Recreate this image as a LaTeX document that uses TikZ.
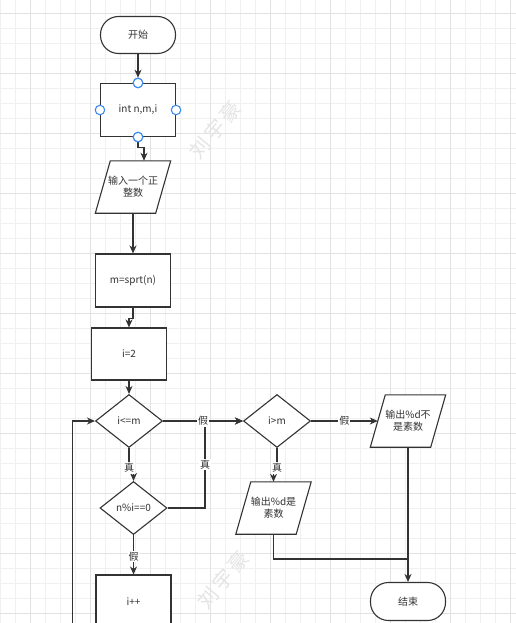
\documentclass[tikz,border=0pt]{standalone}
\usepackage{fontspec}
\setmainfont{Noto Sans CJK SC}
\usetikzlibrary{shapes.geometric,arrows.meta}
\pgfdeclarelayer{bg}
\pgfsetlayers{bg,main}
\definecolor{ink}{HTML}{333333}
\definecolor{gminor}{HTML}{F0F0F0}
\definecolor{gmajor}{HTML}{E2E2E2}
\definecolor{portblue}{HTML}{3C8CF0}
\definecolor{wm}{HTML}{E4E4E4}
\begin{document}
\begin{tikzpicture}[x=1pt,y=-1pt,
  line/.style={draw=ink,line width=1.1pt},
  arr/.style={line,-{Stealth[length=8pt,width=7pt,inset=2.5pt]}},
  base/.style={font=\fontsize{10}{12}\selectfont,text=ink,align=center,inner sep=0pt},
  term/.style={base,line,fill=white,rounded corners=18pt,minimum width=75pt,minimum height=37pt},
  proc/.style={base,line,fill=white,rectangle,minimum width=75pt,minimum height=53pt},
  dec/.style={base,line,fill=white,diamond,minimum width=67pt,minimum height=53pt},
  io/.style={base,rectangle,minimum width=60pt,minimum height=52pt},
  port/.style={circle,draw=portblue,fill=white,line width=1.1pt,minimum size=9.5pt,inner sep=0pt},
  lbl/.style={base,fill=white,inner sep=1pt},
  wmark/.style={text=wm,font=\fontsize{20}{20}\selectfont,rotate=50,inner sep=0pt}
]
\useasboundingbox (0,0) rectangle (516,623);
\begin{pgfonlayer}{bg}
  \fill[white] (0,0) rectangle (516,623);
  \foreach \k in {0,...,34} {\draw[gminor,line width=0.9pt] (0.7+15*\k,0) -- (0.7+15*\k,623);}
  \foreach \k in {0,...,42} {\draw[gminor,line width=0.9pt] (0,-1.7+15*\k) -- (516,-1.7+15*\k);}
  \foreach \k in {0,...,8} {\draw[gmajor,line width=1pt] (30.7+60*\k,0) -- (30.7+60*\k,623);}
  \foreach \k in {0,...,10} {\draw[gmajor,line width=1pt] (0,13.3+60*\k) -- (516,13.3+60*\k);}
  \node[wmark] (wm1) at (215,130) {刘\hspace{3pt}宇\hspace{3pt}豪};
  \node[wmark] (wm2) at (223,580) {刘\hspace{3pt}宇\hspace{3pt}豪};
\end{pgfonlayer}

% nodes
\node[term] (start) at (138,35) {开始};
\node[proc] (init) at (138,110) {int n,m,i};
\node[io] (inp) at (133,187) {输入一个正\\整数};
\node[proc] (msq) at (133,280.5) {m=sprt(n)};
\node[proc,minimum height=52pt] (i2) at (129,354) {i=2};
\node[dec] (d1) at (129,421) {i<=m};
\node[dec] (d2) at (133.5,508) {n\%i==0};
\node[proc] (inc) at (133.5,601.5) {i++};
\node[dec] (d3) at (277,421) {i>m};
\node[io] (out2) at (408,421) {输出\%d不\\是素数};
\node[io] (out1) at (273.5,508) {输出\%d是\\素数};
\node[term,minimum height=38pt] (stop) at (408,601.5) {结束};

\begin{pgfonlayer}{bg}
  \foreach \n in {inp,out1,out2}{
    \draw[line,fill=white] ([xshift=7.5pt]\n.north west) -- ([xshift=7.5pt]\n.north east)
      -- ([xshift=-7.5pt]\n.south east) -- ([xshift=-7.5pt]\n.south west) -- cycle;
  }
\end{pgfonlayer}

% ports on init box
\node[port] (ptop) at (init.north) {};
\node[port] (pleft) at (init.west) {};
\node[port] (pright) at (init.east) {};
\node[port] (pbot) at (init.south) {};

\coordinate (loopc) at (72.7,636);
\coordinate (jn) at (205,421);
\coordinate (merge) at (408,559);

% connectors
\draw[arr] (start.south) -- (ptop.north);
\draw[arr] (pbot.south) -- ++(0,5) -| ([xshift=11pt]inp.north);
\draw[arr] (inp.south) -- (msq.north);
\draw[arr] (msq.south) -- ++(0,11) -| (i2.north);
\draw[arr] (i2.south) -- (d1.north);
\draw[arr] (d1.south) -- ++(0,20) node[lbl,pos=1]{真} -| (d2.north);
\draw[arr] (d2.south) -- node[lbl,pos=0.55]{假} (inc.north);
\draw[arr] (inc.south) |- (loopc) |- (d1.west);
\draw[arr] (d2.east) -| node[lbl,pos=0.75]{真} (jn) -- (d3.west);
\draw[arr] (d1.east) -- node[lbl]{假} (d3.west);
\draw[arr] (d3.east) -- node[lbl]{假} (out2.west);
\draw[arr] (d3.south) -- ++(0,20) node[lbl,pos=1]{真} -| (out1.north);
\draw[arr] (out2.south) -- (stop.north);
\draw[line] (out1.south) |- (merge);

% redraw ports on top
\node[port] at (ptop) {};
\node[port] at (pbot) {};
\end{tikzpicture}
\end{document}
